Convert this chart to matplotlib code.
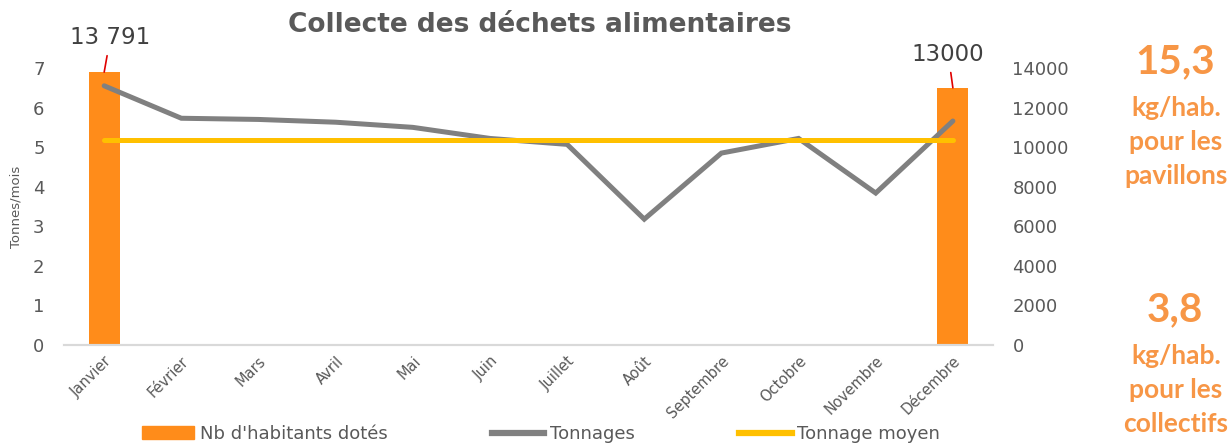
import numpy as np
import matplotlib.pyplot as plt
from matplotlib.patches import Patch
from matplotlib.lines import Line2D

# Données
mois = ["Janvier", "Février", "Mars", "Avril", "Mai", "Juin", "Juillet",
        "Août", "Septembre", "Octobre", "Novembre", "Décembre"]
habitants = [13791, 0, 0, 0, 0, 0, 0, 0, 0, 0, 0, 13000]
tonnages = [6.55, 5.73, 5.70, 5.63, 5.50, 5.22, 5.07, 3.18, 4.85, 5.22, 3.84, 5.66]
tonnage_moyen = [5.17] * 12
ratios = ["15,3", "3,8"]
ratio_labels = ["kg/hab.\npour les\npavillons", "kg/hab.\npour les\ncollectifs"]

ORANGE = "#FF8C1A"
GRIS = "#808080"
JAUNE = "#FFC000"
TXT = "#595959"
ORANGE_TXT = "#F79646"

fig = plt.figure(figsize=(12.32, 4.45), dpi=100)
ax = fig.add_axes([0.052, 0.2247, 0.754, 0.6225])
ax2 = ax.twinx()

x = np.arange(len(mois))

# barres sur l'axe de droite
ax2.bar(x, habitants, width=0.4, color=ORANGE, zorder=1)
ax2.set_ylim(0, 14000)
ax2.set_yticks(range(0, 14001, 2000))
ax2.tick_params(axis="y", length=0, pad=14, labelsize=13, labelcolor=TXT)

# lignes sur l'axe de gauche (au-dessus des barres)
ax.set_zorder(ax2.get_zorder() + 1)
ax.patch.set_visible(False)
ax.plot(x, tonnages, color=GRIS, lw=3.6, solid_capstyle="round", solid_joinstyle="miter")
ax.plot(x, tonnage_moyen, color=JAUNE, lw=3.6, solid_capstyle="round")
ax.set_ylim(0, 7)
ax.set_yticks(range(0, 8))
ax.set_xlim(-0.52, 11.52)
ax.set_xticks(x)
ax.set_xticklabels(mois, rotation=45, ha="right", rotation_mode="anchor")
ax.tick_params(axis="y", length=0, pad=14, labelsize=13, labelcolor=TXT)
ax.tick_params(axis="x", length=0, pad=6, labelsize=10.5, labelcolor=TXT)
ax.set_ylabel("Tonnes/mois", fontsize=9.5, color=TXT, labelpad=8)

for a in (ax, ax2):
    for s in ("top", "left", "right"):
        a.spines[s].set_visible(False)
    a.spines["bottom"].set_color("#D9D9D9")
    a.spines["bottom"].set_linewidth(1.5)

# étiquettes des barres avec trait de rappel
ax2.annotate("13 791", xy=(x[0], habitants[0]), xytext=(x[0] + 0.08, 15550),
             textcoords="data", ha="center", va="center", fontsize=16.5, color="#404040",
             arrowprops=dict(arrowstyle="-", color="#E00000", lw=1.2, shrinkA=3, shrinkB=0),
             annotation_clip=False)
ax2.annotate("13000", xy=(x[-1], habitants[-1]), xytext=(x[-1] - 0.06, 14700),
             textcoords="data", ha="center", va="center", fontsize=16.5, color="#404040",
             arrowprops=dict(arrowstyle="-", color="#E00000", lw=1.2, shrinkA=3, shrinkB=0),
             annotation_clip=False)

fig.text(540 / 1232, 1 - 25 / 445, "Collecte des déchets alimentaires",
         ha="center", va="center", fontsize=19, fontweight="bold", color=TXT)

# textes à droite
for i, (val, lab) in enumerate(zip(ratios, ratio_labels)):
    y0 = [62, 310][i]
    fig.text(1175 / 1232, 1 - y0 / 445, val, ha="center", va="center",
             fontsize=29, fontweight="bold", color=ORANGE_TXT, family="Lato")
    fig.text(1176 / 1232, 1 - (y0 + 80) / 445, lab, ha="center", va="center",
             fontsize=19, fontweight="bold", color=ORANGE_TXT, family="Lato",
             linespacing=1.5)

handles = [Patch(color=ORANGE), Line2D([], [], color=GRIS, lw=4.5),
           Line2D([], [], color=JAUNE, lw=4.5)]
labels = ["Nb d'habitants dotés", "Tonnages", "Tonnage moyen"]
leg = fig.legend(handles, labels, loc="center", bbox_to_anchor=(541 / 1232, 1 - 434 / 445),
                 ncol=3, frameon=False, fontsize=13, handlelength=2.9, handleheight=0.7,
                 handletextpad=0.3, columnspacing=5.8, labelcolor=TXT)

fig.savefig("out.png", dpi=100)
